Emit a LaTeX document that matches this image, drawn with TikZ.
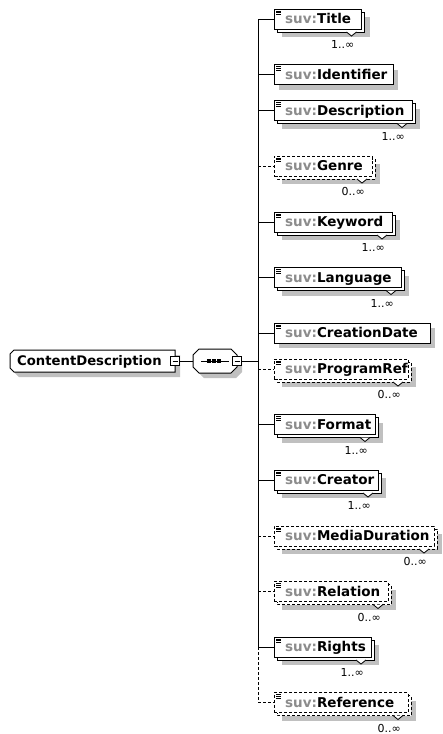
\documentclass[tikz,border=0pt]{standalone}
\usepackage{fontspec}
\setmainfont{DejaVu Sans}
\definecolor{shadowc}{HTML}{C0C0C0}
\definecolor{prefixc}{HTML}{8C8C8C}
\newcommand{\elfont}{\fontsize{13.5pt}{14pt}\selectfont\bfseries}
\newcommand{\rootfont}{\fontsize{13.2pt}{14pt}\selectfont\bfseries}
\newcommand{\multfont}{\fontsize{11pt}{12pt}\selectfont}
\tikzset{
  elline/.style={line width=1pt, black},
  req/.style={},
  opt/.style={dash pattern=on 3pt off 2pt},
  elbox/.style={draw, elline, fill=white, rectangle, minimum height=20pt, inner sep=0pt, outer sep=0pt},
  minusbox/.style={draw, line width=0.8pt, fill=white, rectangle, minimum size=9pt, inner sep=0pt, outer sep=0pt},
}
% #1 id, #2 name, #3 centre y, #4 right edge, #5 multi, #6 req/opt, #7 label
\newcommand{\xelem}[7]{%
  \pgfmathsetmacro{\xw}{#4-274}%
  \ifnum#5=1
    \fill[shadowc] (282,#3-2) rectangle (#4+8,#3+18);
    \draw[elline,#6,fill=white] (277,#3-7) rectangle (#4+3,#3+13);
  \else
    \fill[shadowc] (279,#3-5) rectangle (#4+5,#3+15);
  \fi
  \node[elbox,#6,minimum width=\xw pt,anchor=west] (#1) at (274,#3) {};
  \foreach \k in {2,3.7,5.4}
    \draw[line width=0.6pt] ([xshift=2pt,yshift=-\k pt]#1.north west) -- ++(5,0);
  \node[anchor=base west, inner sep=0pt, font=\elfont] at ([xshift=11pt,yshift=-4.8pt]#1.west) {\textcolor{prefixc}{suv:}#2};
  \ifnum#5=1
    \draw[line width=0.8pt, fill=white] (#4-15,#3+13) -- (#4-10,#3+17) -- (#4-5,#3+13);
    \node[anchor=east, font=\multfont, inner sep=0pt] at (#4-7,#3+25.5) {#7};
  \fi
  \coordinate (s#1) at (258,#3);
  \draw[elline,#6] (s#1) -- (#1.west);
}
\begin{document}
\begin{tikzpicture}[x=1pt,y=-1pt]
\useasboundingbox (0,0) rectangle (443,734);
\fill[white] (0,0) rectangle (443,734);
% root element
\fill[shadowc,shift={(5,5)}] (14,350) -- (175,350) -- (175,372) -- (14,372) -- (10,368) -- (10,354) -- cycle;
\draw[elline,fill=white] (14,350) -- (175,350) -- (175,372) -- (14,372) -- (10,368) -- (10,354) -- cycle;
\node[inner sep=0pt, outer sep=0pt, minimum width=165pt, minimum height=22pt] (root) at (92.5,361) {};
\node[anchor=base west, inner sep=0pt, font=\rootfont] (roottext) at ([xshift=7pt,yshift=-4.8pt]root.west) {ContentDescription};
\node[minusbox] (rm) at (175,361) {};
\draw[line width=0.8pt] ([xshift=2pt]rm.west) -- ([xshift=-2pt]rm.east);
% sequence compositor
\fill[shadowc,shift={(5,5)}] (199,349) -- (231,349) -- (237,355) -- (237,367) -- (231,373) -- (199,373) -- (193,367) -- (193,355) -- cycle;
\draw[elline,fill=white] (199,349) -- (231,349) -- (237,355) -- (237,367) -- (231,373) -- (199,373) -- (193,367) -- (193,355) -- cycle;
\node[inner sep=0pt, outer sep=0pt, minimum width=44pt, minimum height=24pt] (seq) at (215,361) {};
\draw[line width=1pt] (201,361) -- (229,361);
\foreach \dx in {209,214,219} \fill (\dx-1.6,359.4) rectangle (\dx+1.6,362.6);
\node[minusbox] (sm) at (237,361) {};
\draw[line width=0.8pt] ([xshift=2pt]sm.west) -- ([xshift=-2pt]sm.east);
\coordinate (sj) at (258,361);
\draw[elline] (rm.east) -- (seq.west);
\draw[elline] (sm.east) -- (sj);
% children
\xelem{e1}{Title}{19}{361.5}{1}{req}{1..∞}
\xelem{e2}{Identifier}{74.5}{393}{0}{req}{}
\xelem{e3}{Description}{110.5}{412}{1}{req}{1..∞}
\xelem{e4}{Genre}{166}{372}{1}{opt}{0..∞}
\xelem{e5}{Keyword}{222}{392}{1}{req}{1..∞}
\xelem{e6}{Language}{277.5}{401}{1}{req}{1..∞}
\xelem{e7}{CreationDate}{333}{430}{0}{req}{}
\xelem{e8}{ProgramRef}{369}{408}{1}{opt}{0..∞}
\xelem{e9}{Format}{424.5}{375}{1}{req}{1..∞}
\xelem{e10}{Creator}{480}{378}{1}{req}{1..∞}
\xelem{e11}{MediaDuration}{536}{434}{1}{opt}{0..∞}
\xelem{e12}{Relation}{591.5}{388}{1}{opt}{0..∞}
\xelem{e13}{Rights}{647}{371}{1}{req}{1..∞}
\xelem{e14}{Reference}{702.5}{408}{1}{opt}{0..∞}
% spine
\draw[elline] (se1) -- (se13);
\draw[elline,opt] (se13) -- (se14);
\end{tikzpicture}
\end{document}
